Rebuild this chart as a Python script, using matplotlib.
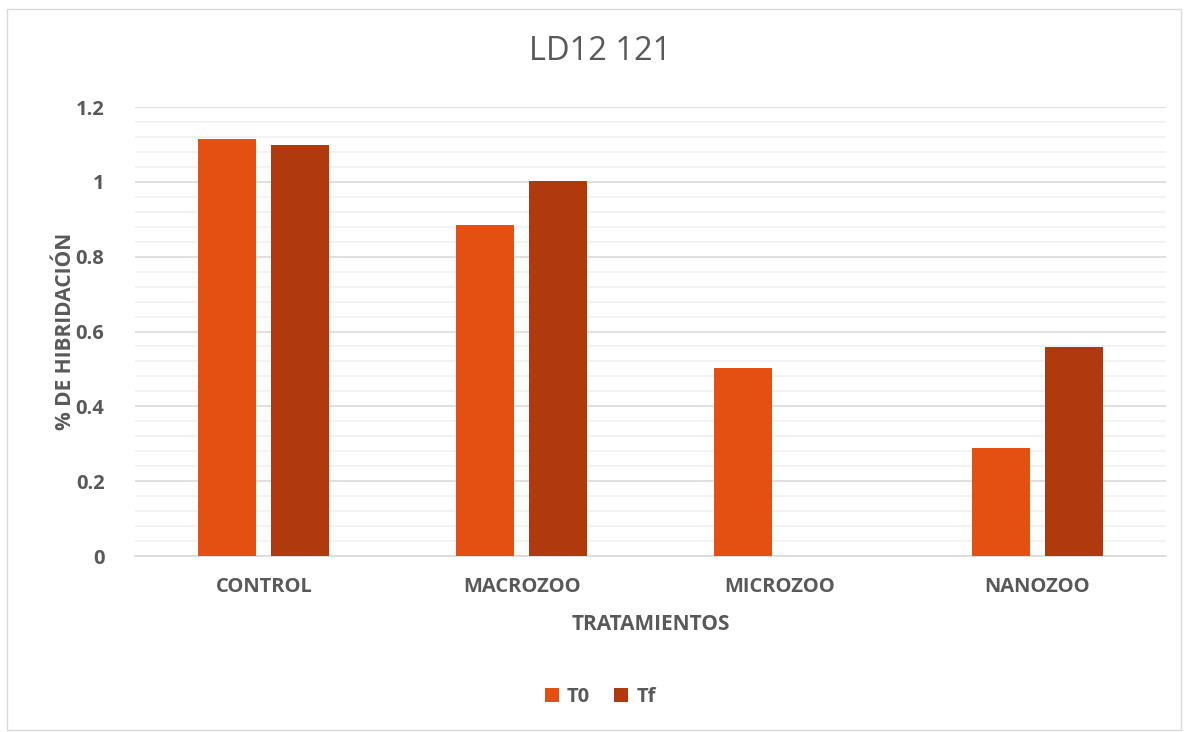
import matplotlib
matplotlib.use("Agg")
import matplotlib.pyplot as plt
import numpy as np
from matplotlib.patches import Rectangle

categories = ["CONTROL", "MACROZOO", "MICROZOO", "NANOZOO"]
t0 = [1.114, 0.885, 0.502, 0.289]
tf = [1.098, 1.002, 0.0, 0.558]

c_t0 = "#E35012"
c_tf = "#B03A0E"
grey = "#595959"

plt.rcParams["font.family"] = ["Open Sans", "DejaVu Sans"]

fig = plt.figure(figsize=(11.86, 7.32), dpi=100)
ax = fig.add_axes([0.1138, 0.2404, 0.8693, 0.6134])

x = np.arange(len(categories))
w = 0.225
off = 0.1415
ax.bar(x - off, t0, w, color=c_t0, label="T0", zorder=3)
ax.bar(x + off, tf, w, color=c_tf, label="Tf", zorder=3)

ax.set_xlim(-0.5, 3.5)
ax.set_ylim(0, 1.2)
ax.set_yticks(np.arange(0, 1.21, 0.2))
ax.set_yticklabels(["0", "0.2", "0.4", "0.6", "0.8", "1", "1.2"])
ax.set_yticks(np.arange(0, 1.2, 0.04), minor=True)
ax.grid(axis="y", which="major", color="#D9D9D9", lw=1.2, zorder=0)
ax.grid(axis="y", which="minor", color="#F0F0F0", lw=1.2, zorder=0)
ax.set_xticks(x)
ax.set_xticklabels(categories)
ax.tick_params(axis="both", which="both", length=0, colors=grey, labelsize=14.5)
ax.tick_params(axis="x", pad=15)
ax.tick_params(axis="y", pad=22)
for lab in ax.get_xticklabels() + ax.get_yticklabels():
    lab.set_fontweight("bold")
for s in ["top", "right", "left"]:
    ax.spines[s].set_visible(False)
ax.spines["bottom"].set_color("#D9D9D9")
ax.spines["bottom"].set_linewidth(1.2)

fig.text(0.506, 0.93, "LD12 121", fontsize=23.5, color=grey, ha="center", va="center")
ax.set_xlabel("TRATAMIENTOS", fontsize=15, fontweight="bold", color=grey, labelpad=12)
ax.set_ylabel("% DE HIBRIDACIÓN", fontsize=15, fontweight="bold", color=grey, labelpad=0)

leg = fig.legend(loc="center", bbox_to_anchor=(0.506, 0.048), ncol=2, frameon=False,
                 handlelength=0.7, handleheight=0.7, handletextpad=0.4, columnspacing=1.2,
                 fontsize=14.5)
for t in leg.get_texts():
    t.set_color(grey)
    t.set_fontweight("bold")

fig.patches.append(Rectangle((0.006, 0.003), 0.99, 0.985, transform=fig.transFigure,
                             fill=False, edgecolor="#D9D9D9", lw=1))

fig.savefig("out.png", dpi=100)
